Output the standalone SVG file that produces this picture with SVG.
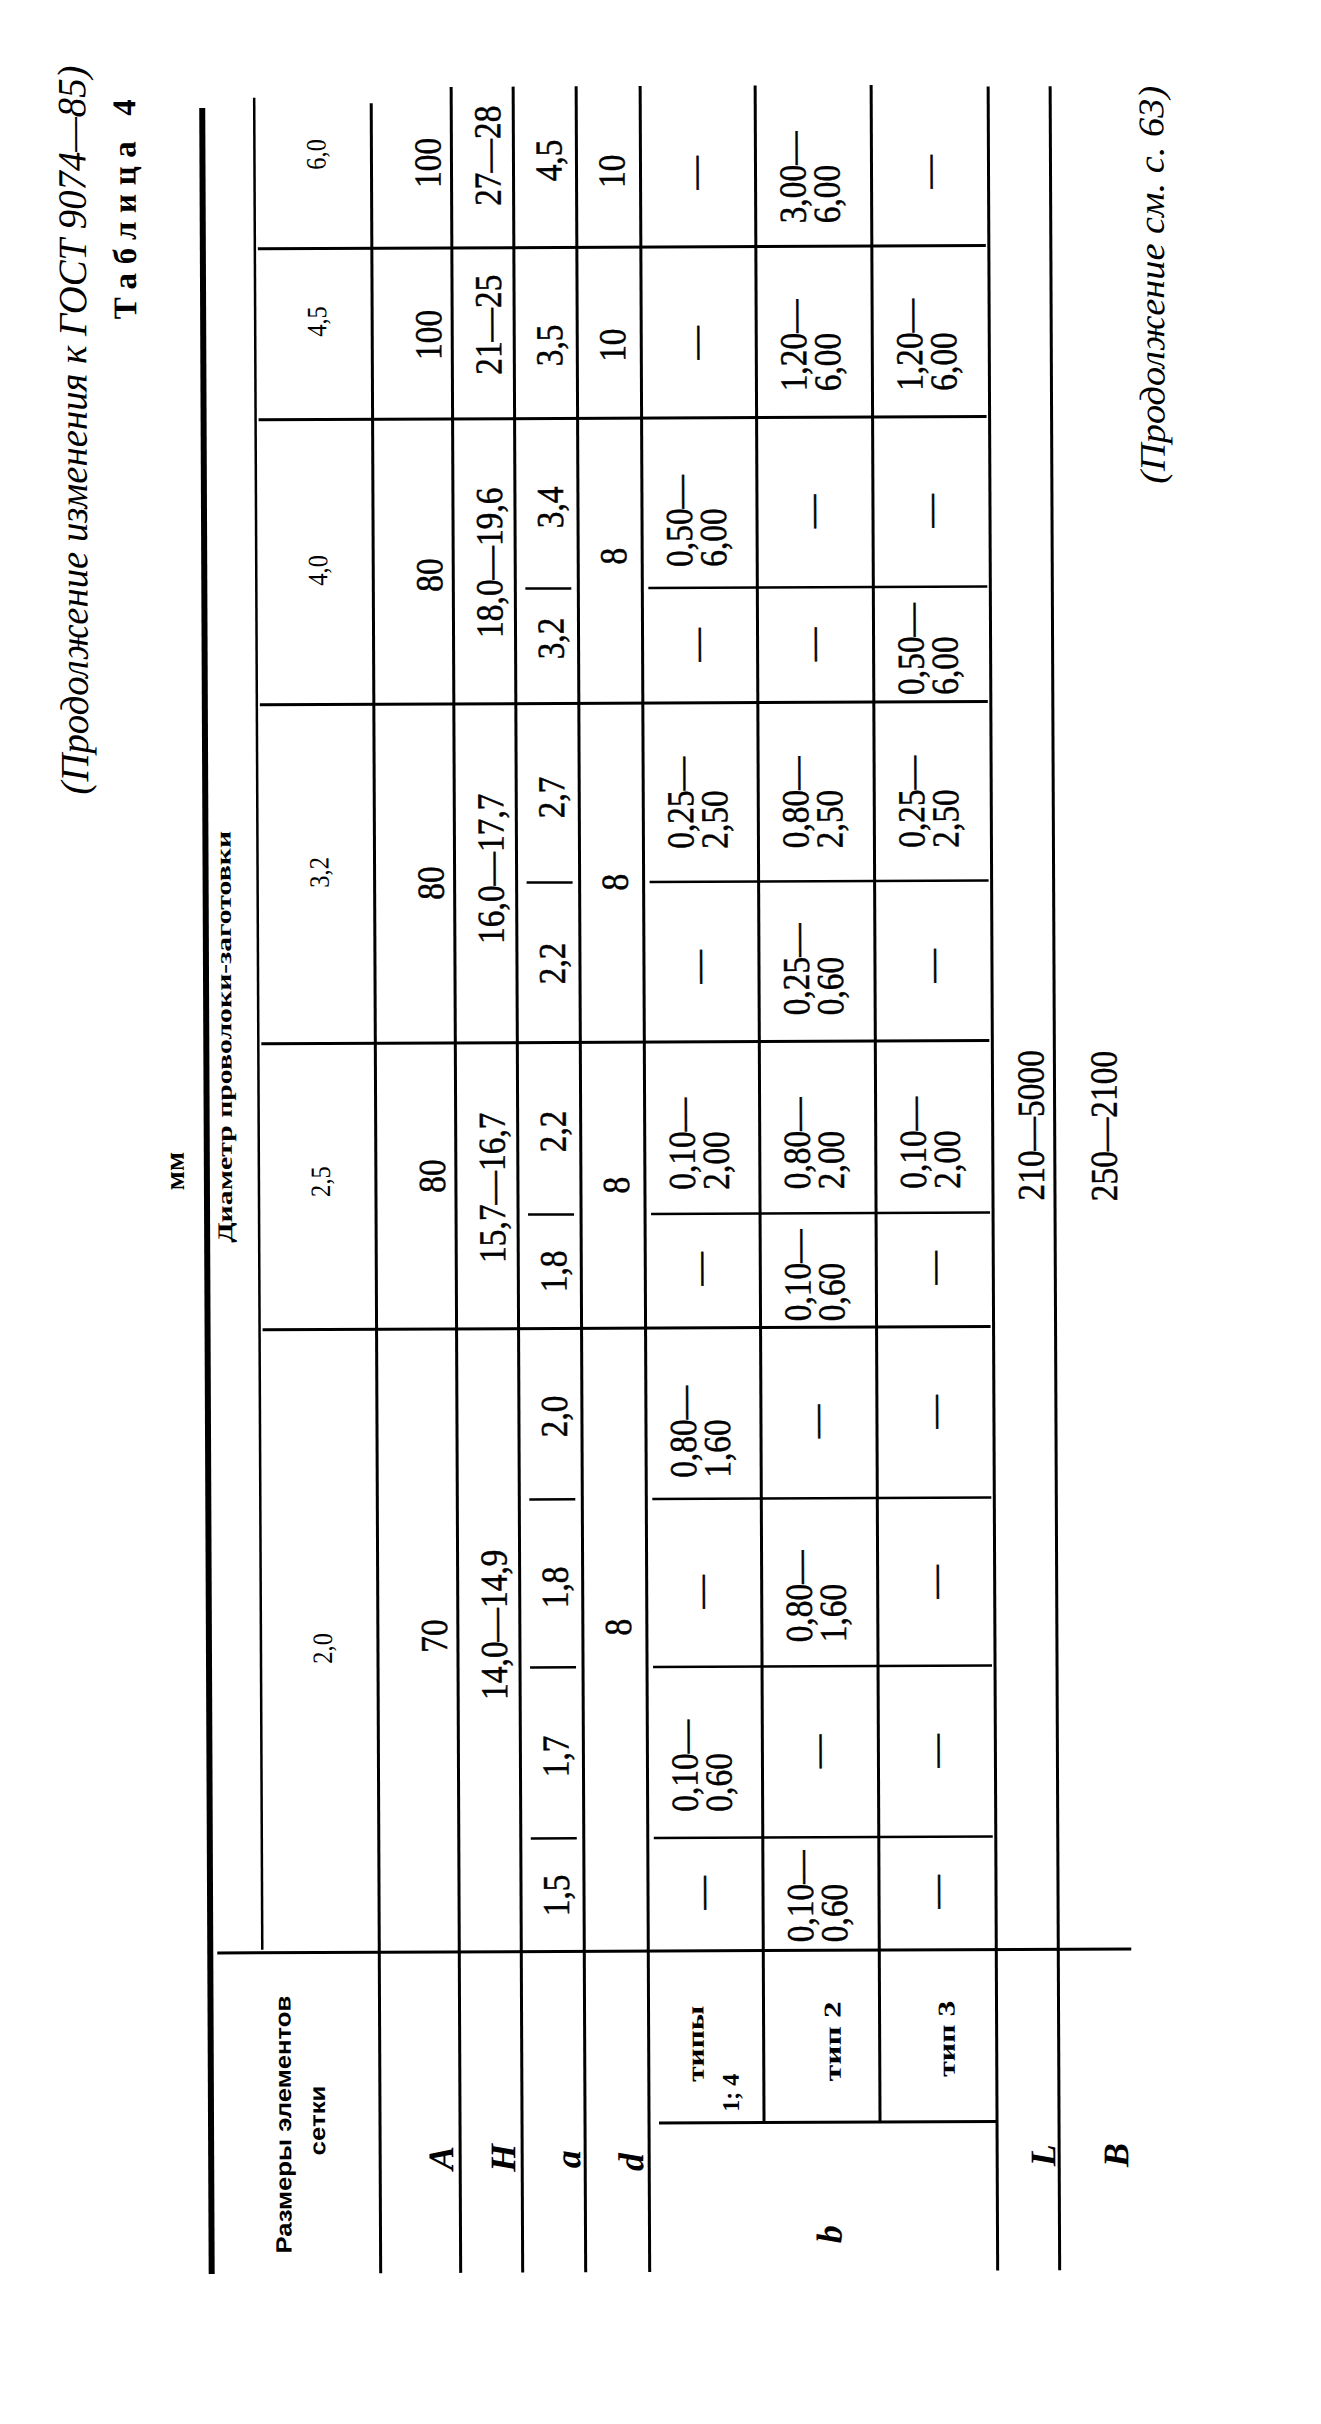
<svg xmlns="http://www.w3.org/2000/svg" width="1321" height="2424" viewBox="0 0 1321 2424">
<style>
text{font-family:"Liberation Serif","Times New Roman",serif;fill:#000}
.v{font-size:38px;text-anchor:middle;stroke:#000;stroke-width:0.5}
.vs{font-size:38px;text-anchor:start;stroke:#000;stroke-width:0.5}
.h{font-size:28px;text-anchor:middle}
.lb{font-size:36px;font-style:italic;font-weight:bold;text-anchor:middle}
.t{font-size:24px;font-weight:bold;text-anchor:middle}
.hd{font-family:"Liberation Sans",Arial,sans-serif;font-size:22px;font-weight:bold;text-anchor:middle}
.g line{stroke:#000;stroke-width:3;stroke-linecap:butt}
.g .thick{stroke-width:6}
.g .thin{stroke-width:2.5}
</style>
<rect width="1321" height="2424" fill="#fff"/>
<g transform="rotate(-0.25 660 1200)">
<g transform="translate(0 2424) rotate(-90)">
<g id="titles">
<text x="1632" y="90" font-size="40" font-style="italic" textLength="729" lengthAdjust="spacingAndGlyphs">(Продолжение изменения к ГОСТ 9074—85)</text>
<text x="2107" y="140" font-size="33" font-weight="bold" textLength="220" lengthAdjust="spacing">Таблица 4</text>
<text x="1255" y="184" font-size="28" font-weight="bold" text-anchor="middle">мм</text>
<text x="1938" y="1168" font-size="36" font-style="italic" textLength="398" lengthAdjust="spacingAndGlyphs">(Продолжение см. с. 63)</text>
</g>
<g id="grid" class="g">
<line class="thick" x1="152" y1="207" x2="2318" y2="207"/>
<line class="thin" x1="476" y1="259" x2="2328" y2="259"/>
<line x1="152" y1="376" x2="2322" y2="376"/>
<line x1="152" y1="456" x2="2338" y2="456"/>
<line x1="152" y1="518" x2="2338" y2="518"/>
<line x1="152" y1="581" x2="2338" y2="581"/>
<line x1="152" y1="645" x2="2338" y2="645"/>
<line x1="301" y1="760" x2="2338" y2="760"/>
<line x1="301" y1="876" x2="2338" y2="876"/>
<line x1="152" y1="993" x2="2336" y2="993"/>
<line x1="152" y1="1055" x2="2336" y2="1055"/>
<line x1="473" y1="214" x2="473" y2="1128"/>
<line x1="301" y1="655" x2="301" y2="992"/>
<line x1="1096" y1="262" x2="1096" y2="990"/>
<line x1="1382" y1="262" x2="1382" y2="990"/>
<line x1="1721" y1="262" x2="1721" y2="990"/>
<line x1="2006" y1="262" x2="2006" y2="990"/>
<line x1="2177" y1="262" x2="2177" y2="990"/>
<line class="thin" x1="586" y1="528" x2="586" y2="574"/>
<line class="thin" x1="757" y1="528" x2="757" y2="574"/>
<line class="thin" x1="925" y1="528" x2="925" y2="574"/>
<line class="thin" x1="1210" y1="528" x2="1210" y2="574"/>
<line class="thin" x1="1542" y1="528" x2="1542" y2="574"/>
<line class="thin" x1="1836" y1="528" x2="1836" y2="574"/>
<line class="thin" x1="586" y1="651" x2="586" y2="990"/>
<line class="thin" x1="757" y1="651" x2="757" y2="990"/>
<line class="thin" x1="925" y1="651" x2="925" y2="990"/>
<line class="thin" x1="1210" y1="651" x2="1210" y2="990"/>
<line class="thin" x1="1542" y1="651" x2="1542" y2="990"/>
<line class="thin" x1="1836" y1="651" x2="1836" y2="990"/>
</g>
<g id="head">
<text class="hd" x="301" y="287" textLength="258" lengthAdjust="spacingAndGlyphs">Размеры элементов</text>
<text class="hd" x="305" y="321" textLength="70" lengthAdjust="spacingAndGlyphs">сетки</text>
<text x="1389" y="232" font-size="21" font-weight="bold" text-anchor="middle" textLength="412" lengthAdjust="spacingAndGlyphs">Диаметр проволоки-заготовки</text>
<text class="lb" x="267" y="449">A</text>
<text class="lb" x="267" y="511">H</text>
<text class="lb" x="265" y="576">a</text>
<text class="lb" x="262" y="639">d</text>
<text class="lb" x="189" y="837">b</text>
<text class="lb" x="267" y="1051">L</text>
<text class="lb" x="267" y="1124">B</text>
<text class="t" x="380" y="700" textLength="76" lengthAdjust="spacingAndGlyphs">типы</text>
<text x="312" y="735" font-size="24" font-weight="bold">1; 4</text>
<text class="t" x="382" y="837" textLength="80" lengthAdjust="spacingAndGlyphs">тип 2</text>
<text class="t" x="384" y="951" textLength="76" lengthAdjust="spacingAndGlyphs">тип 3</text>
</g>
<g id="values" transform="scale(0.88 1)">
<g id="col-6-0">
<text class="h" x="2580.7" y="330">6,0</text>
<text class="v" x="2570.5" y="445">100</text>
<text class="v" x="2578.4" y="505">27—28</text>
<text class="v" x="2572.7" y="566">4,5</text>
<text class="v" x="2560.2" y="629">10</text>
<text class="v" x="2558" y="711">—</text>
<text class="vs" x="2500" y="810">3,00—</text><text class="vs" x="2500" y="844">6,00</text>
<text class="v" x="2558" y="945">—</text>
</g>
<g id="col-4-5">
<text class="h" x="2390.9" y="330">4,5</text>
<text class="v" x="2375" y="445">100</text>
<text class="v" x="2386.4" y="505">21—25</text>
<text class="v" x="2362.5" y="566">3,5</text>
<text class="v" x="2362.5" y="629">10</text>
<text class="v" x="2364.8" y="711">—</text>
<text class="vs" x="2309.1" y="810">1,20—</text><text class="vs" x="2309.1" y="844">6,00</text>
<text class="vs" x="2309.1" y="926">1,20—</text><text class="vs" x="2309.1" y="960">6,00</text>
</g>
<g id="col-4-0">
<text class="h" x="2108" y="330">4,0</text>
<text class="v" x="2102.3" y="445">80</text>
<text class="v" x="2115.9" y="505">18,0—19,6</text>
<text class="v" x="2178.4" y="566">3,4</text>
<text class="v" x="2029.5" y="566">3,2</text>
<text class="v" x="2122.7" y="629">8</text>
<text class="vs" x="2110.2" y="695">0,50—</text><text class="vs" x="2110.2" y="729">6,00</text>
<text class="v" x="2021.6" y="711">—</text>
<text class="v" x="2172.7" y="827">—</text>
<text class="v" x="2021.6" y="827">—</text>
<text class="v" x="2172.7" y="945">—</text>
<text class="vs" x="1963.6" y="926">0,50—</text><text class="vs" x="1963.6" y="960">6,00</text>
</g>
<g id="col-3-2">
<text class="h" x="1764.8" y="330">3,2</text>
<text class="v" x="1752.3" y="445">80</text>
<text class="v" x="1768.2" y="505">16,0—17,7</text>
<text class="v" x="1848.9" y="566">2,7</text>
<text class="v" x="1660.2" y="566">2,2</text>
<text class="v" x="1752.3" y="629">8</text>
<text class="vs" x="1789.8" y="695">0,25—</text><text class="vs" x="1789.8" y="729">2,50</text>
<text class="v" x="1655.7" y="711">—</text>
<text class="vs" x="1789.8" y="810">0,80—</text><text class="vs" x="1789.8" y="844">2,50</text>
<text class="vs" x="1600" y="810">0,25—</text><text class="vs" x="1600" y="844">0,60</text>
<text class="vs" x="1789.8" y="926">0,25—</text><text class="vs" x="1789.8" y="960">2,50</text>
<text class="v" x="1655.7" y="945">—</text>
</g>
<g id="col-2-5">
<text class="h" x="1413.6" y="330">2,5</text>
<text class="v" x="1419.3" y="445">80</text>
<text class="v" x="1405.7" y="505">15,7—16,7</text>
<text class="v" x="1469.3" y="566">2,2</text>
<text class="v" x="1310.2" y="566">1,8</text>
<text class="v" x="1408" y="629">8</text>
<text class="vs" x="1402.3" y="695">0,10—</text><text class="vs" x="1402.3" y="729">2,00</text>
<text class="v" x="1312.5" y="711">—</text>
<text class="vs" x="1402.3" y="810">0,80—</text><text class="vs" x="1402.3" y="844">2,00</text>
<text class="vs" x="1252.3" y="810">0,10—</text><text class="vs" x="1252.3" y="844">0,60</text>
<text class="vs" x="1402.3" y="926">0,10—</text><text class="vs" x="1402.3" y="960">2,00</text>
<text class="v" x="1312.5" y="945">—</text>
</g>
<g id="col-2-0">
<text class="h" x="883" y="330">2,0</text>
<text class="v" x="896.6" y="445">70</text>
<text class="v" x="909.1" y="505">14,0—14,9</text>
<text class="v" x="1145.5" y="566">2,0</text>
<text class="v" x="951.1" y="566">1,8</text>
<text class="v" x="759.1" y="566">1,7</text>
<text class="v" x="601.1" y="566">1,5</text>
<text class="v" x="905.7" y="629">8</text>
<text class="vs" x="1075" y="695">0,80—</text><text class="vs" x="1075" y="729">1,60</text>
<text class="v" x="945.5" y="711">—</text>
<text class="vs" x="695.5" y="695">0,10—</text><text class="vs" x="695.5" y="729">0,60</text>
<text class="v" x="603.4" y="711">—</text>
<text class="v" x="1138.6" y="827">—</text>
<text class="vs" x="887.5" y="810">0,80—</text><text class="vs" x="887.5" y="844">1,60</text>
<text class="v" x="763.6" y="827">—</text>
<text class="vs" x="546.6" y="810">0,10—</text><text class="vs" x="546.6" y="844">0,60</text>
<text class="v" x="1148.9" y="945">—</text>
<text class="v" x="955.7" y="945">—</text>
<text class="v" x="763.6" y="945">—</text>
<text class="v" x="603.4" y="945">—</text>
</g>
<g id="row-L-B">
<text class="v" x="1473.9" y="1044">210—5000</text>
<text class="v" x="1472.7" y="1117">250—2100</text>
</g>
</g>
</g>
</g>
</svg>
